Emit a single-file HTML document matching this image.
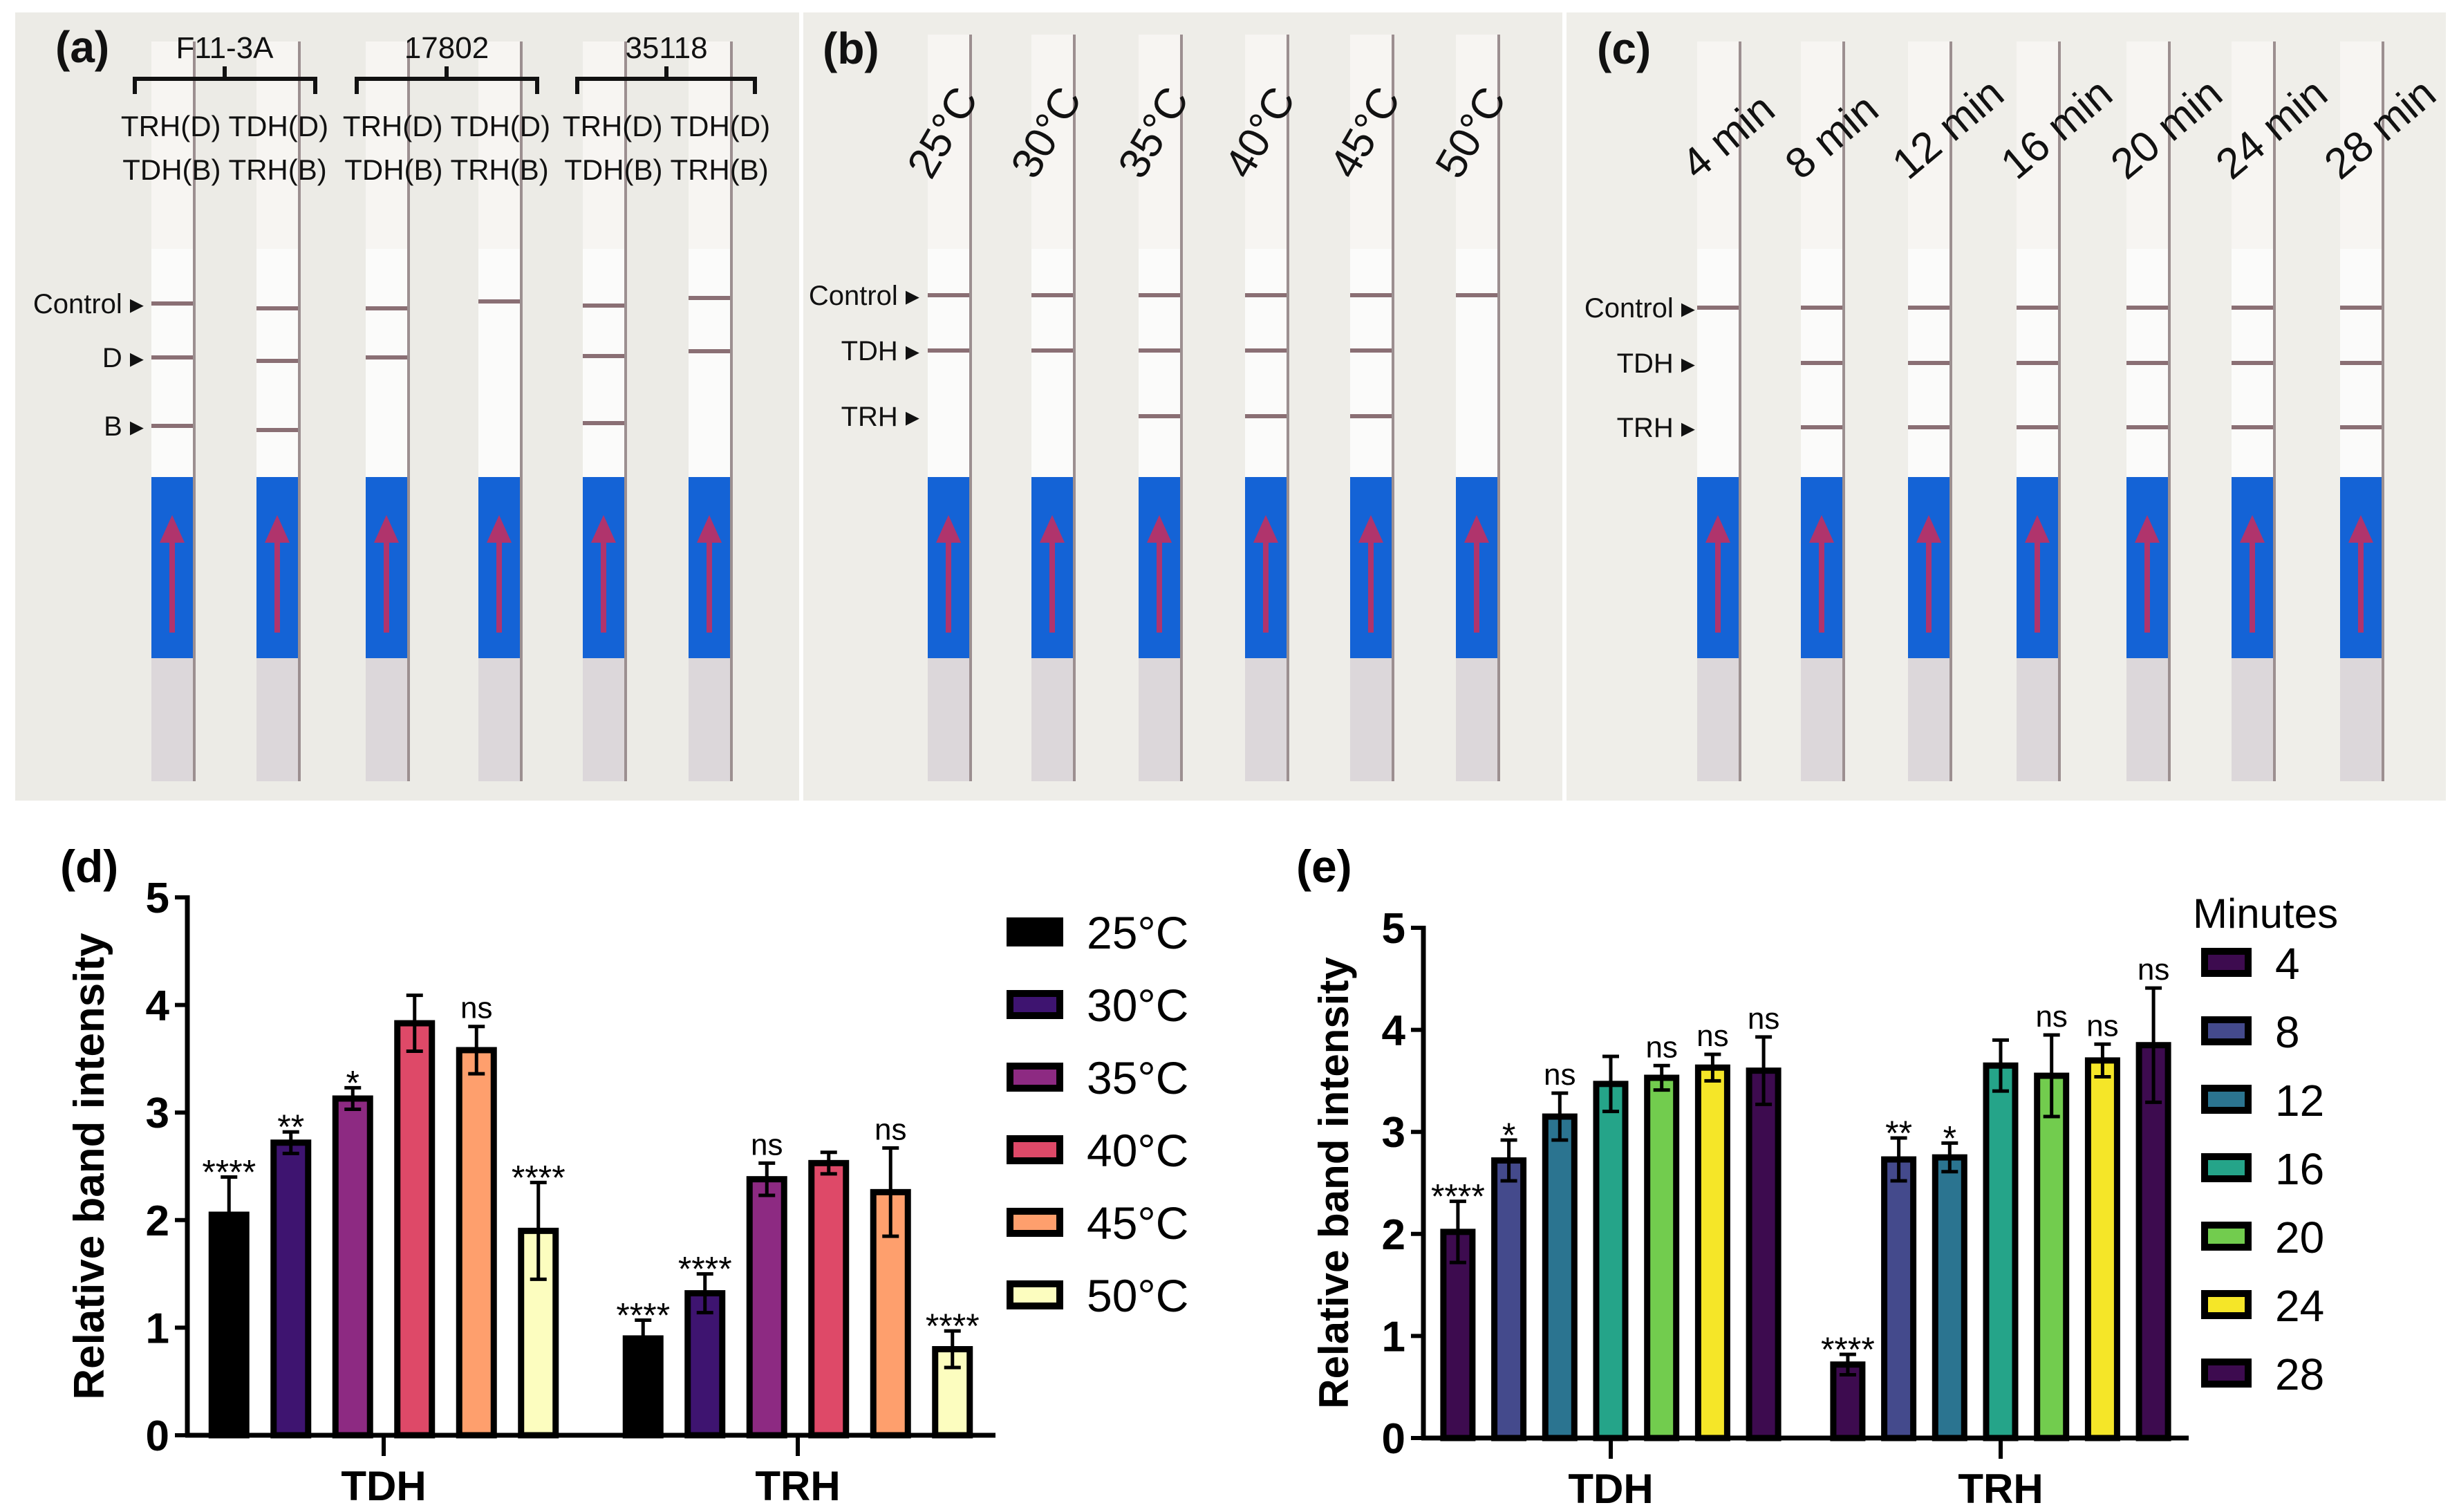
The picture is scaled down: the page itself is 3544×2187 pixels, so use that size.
<!DOCTYPE html>
<html><head><meta charset="utf-8"><style>
html,body{margin:0;padding:0;background:#fff;width:3544px;height:2187px;overflow:hidden}
svg{display:block;font-family:"Liberation Sans",Arial,sans-serif}
</style></head><body>
<svg id="fig" width="3544" height="2187" viewBox="0 0 3544 2187" xmlns="http://www.w3.org/2000/svg">
<rect x="0" y="0" width="3544" height="2187" fill="#fff"/>
<g id="photos">
 <rect x="22" y="18" width="1134" height="1140" fill="#ecebe6"/>
 <rect x="1162" y="18" width="1098" height="1140" fill="#eeede8"/>
 <rect x="2266" y="18" width="1272" height="1140" fill="#efeee9"/>
</g>
<g id="strips"></g>
<g id="photo-text" font-size="42" fill="#111">
 <text x="80" y="90" font-size="64" font-weight="bold">(a)</text>
 <text x="1190" y="92" font-size="64" font-weight="bold">(b)</text>
 <text x="2310" y="92" font-size="64" font-weight="bold">(c)</text>
 <g text-anchor="middle">
  <text x="325" y="84" font-size="44">F11-3A</text>
  <text x="646" y="84" font-size="44">17802</text>
  <text x="964" y="84" font-size="44">35118</text>
  <text x="325" y="197">TRH(D) TDH(D)</text>
  <text x="646" y="197">TRH(D) TDH(D)</text>
  <text x="964" y="197">TRH(D) TDH(D)</text>
  <text x="325" y="260">TDH(B) TRH(B)</text>
  <text x="646" y="260">TDH(B) TRH(B)</text>
  <text x="964" y="260">TDH(B) TRH(B)</text>
 </g>
 <g stroke="#111" stroke-width="6" fill="none">
  <path d="M195 136V114H456V136M325 114V96"/>
  <path d="M516 136V114H777V136M646 114V96"/>
  <path d="M835 136V114H1092V136M964 114V96"/>
 </g>
 <g text-anchor="end" font-size="40">
  <text x="208" y="453">Control ▸</text>
  <text x="208" y="531">D ▸</text>
  <text x="208" y="630">B ▸</text>
  <text x="1330" y="441">Control ▸</text>
  <text x="1330" y="521">TDH ▸</text>
  <text x="1330" y="616">TRH ▸</text>
  <text x="2452" y="459">Control ▸</text>
  <text x="2452" y="539">TDH ▸</text>
  <text x="2452" y="632">TRH ▸</text>
 </g>
 <g id="rot" font-size="62"></g>
</g>
<g id="chartD"></g>
<g id="chartE"></g>
</svg>
<script>
const NS="http://www.w3.org/2000/svg";
function mk(p,tag,at,txt){const e=document.createElementNS(NS,tag);for(const k in at)e.setAttribute(k,at[k]);if(txt!==undefined)e.textContent=txt;p.appendChild(e);return e;}

const stripsG=document.getElementById('strips');
const stripsA=[249,401,559,722,873,1026];
const bandsA=[[439,517,616],[446,522,622],[446,517,null],[436,null,null],[442,515,612],[431,508,null]];
const stripsB=[1372,1522,1677,1831,1983,2136];
const bandsB=[[427,507,null],[427,507,null],[427,507,602],[427,507,602],[427,507,602],[427,null,null]];
const stripsC=[2485,2635,2790,2947,3106,3258,3415];
const bandsC=[[445,null,null],[445,525,618],[445,525,618],[445,525,618],[445,525,618],[445,525,618],[445,525,618]];
function strip(cx,bands,top){
  const g=mk(stripsG,'g',{});
  
  
  const w=60,x=cx-w/2;
  mk(g,'rect',{x:x,y:top,width:w,height:1130-top,fill:'#f7f5f2'});
  mk(g,'rect',{x:x+w,y:top,width:4,height:1130-top,fill:'#9c8f90'});
  mk(g,'rect',{x:x,y:360,width:w,height:330,fill:'#fbfbfa'});
  mk(g,'rect',{x:x,y:690,width:w,height:262,fill:'#1463d6'});
  mk(g,'rect',{x:x,y:952,width:w,height:178,fill:'#dcd7da'});
  mk(g,'rect',{x:cx-4,y:780,width:8,height:135,fill:'#b0346c'});
  mk(g,'polygon',{points:`${cx-18},785 ${cx+18},785 ${cx},745`,fill:'#b0346c'});
  bands.forEach(b=>{if(b!==null)mk(g,'rect',{x:x,y:b-3,width:w,height:6,fill:'#8a6f74'});});
}
stripsA.forEach((c,i)=>strip(c,bandsA[i],60));
stripsB.forEach((c,i)=>strip(c,bandsB[i],50));
stripsC.forEach((c,i)=>strip(c,bandsC[i],60));
const rot=document.getElementById('rot');
const tempLabels=['25°C','30°C','35°C','40°C','45°C','50°C'];
tempLabels.forEach((t,i)=>{const e=mk(rot,'text',{x:stripsB[i]-25,y:262,transform:`rotate(-60 ${stripsB[i]-25} 262)`},t);

});
const minLabels=['4 min','8 min','12 min','16 min','20 min','24 min','28 min'];
minLabels.forEach((t,i)=>{const e=mk(rot,'text',{x:stripsC[i]-30,y:262,transform:`rotate(-40 ${stripsC[i]-30} 262)`},t);

});

const groups=['TDH','TRH'];
const tempSeries=['25°C','30°C','35°C','40°C','45°C','50°C'];
const tempColors=['#000000','#3e1470','#8d2a82','#de4968','#fe9f6d','#fcfdbf'];
const dTDH=[2.05,2.72,3.13,3.83,3.58,1.90];
const dTRH=[0.90,1.32,2.38,2.53,2.26,0.80];
const dTDHerr=[0.35,0.10,0.10,0.26,0.22,0.45];
const dTRHerr=[0.17,0.18,0.15,0.10,0.41,0.17];
const dTDHsig=['****','**','*','','ns','****'];
const dTRHsig=['****','****','ns','','ns','****'];
const minSeries=['4','8','12','16','20','24','28'];
const minColors=['#3d0b4f','#444a8c','#2b7490','#25a489','#72cc4e','#f5e628','#3d0b4f'];
const eTDH=[2.02,2.72,3.15,3.47,3.53,3.63,3.60];
const eTRH=[0.72,2.73,2.75,3.65,3.55,3.70,3.85];
const eTDHerr=[0.30,0.20,0.23,0.27,0.12,0.13,0.33];
const eTRHerr=[0.10,0.21,0.14,0.25,0.40,0.16,0.56];
const eTDHsig=['****','*','ns','','ns','ns','ns'];
const eTRHsig=['****','**','*','','ns','ns','ns'];
const yTicks=[0,1,2,3,4,5];

function chart(gid,cfg){
  const g=document.getElementById(gid);
  const y=v=>cfg.y0-(cfg.y0-cfg.y5)*v/5;
  const n=cfg.series.length;
  const t=mk(g,'text',{x:cfg.titleX,y:(cfg.y0+cfg.y5)/2,'font-size':cfg.titleSize,'font-weight':'bold','text-anchor':'middle',transform:`rotate(-90 ${cfg.titleX} ${(cfg.y0+cfg.y5)/2})`},'Relative band intensity');
  
  
  const pl=mk(g,'text',{x:cfg.ax-184,y:cfg.labelY,'font-size':66,'font-weight':'bold'},cfg.panel);
  
  
  yTicks.forEach(v=>{
    const tk=mk(g,'line',{x1:cfg.ax-18,x2:cfg.ax,y1:y(v),y2:y(v),stroke:'#000','stroke-width':6});
    
    
    const tl=mk(g,'text',{x:cfg.ax-26,y:y(v)+22,'font-size':62,'font-weight':'bold','text-anchor':'end'},String(v));
    
    
  });
  groups.forEach((grp,gi)=>{
    const vals=gi?cfg.trh:cfg.tdh, errs=gi?cfg.trhE:cfg.tdhE, sig=gi?cfg.trhS:cfg.tdhS;
    const gc=cfg.groupCenters[gi];
    vals.forEach((v,i)=>{
      const cx=gc+(i-(n-1)/2)*cfg.step;
      const b=mk(g,'rect',{x:cx-cfg.bw/2,y:y(v),width:cfg.bw,height:cfg.y0-y(v),fill:cfg.colors[i],stroke:'#000','stroke-width':9});
      
      
      const e=errs[i];
      const eb=mk(g,'path',{d:`M${cx} ${y(v-e)}V${y(v+e)}M${cx-12} ${y(v+e)}H${cx+12}M${cx-12} ${y(v-e)}H${cx+12}`,stroke:'#000','stroke-width':5,fill:'none'});
      
      
      if(sig[i]){
        const st=mk(g,'text',{x:cx,y:y(v+e)-(sig[i]==='ns'?12:-10),'font-size':sig[i]==='ns'?44:50,'text-anchor':'middle'},sig[i]);
        
        
      }
    });
    const xt=mk(g,'line',{x1:gc,x2:gc,y1:cfg.y0,y2:cfg.y0+30,stroke:'#000','stroke-width':6});
    
    
    const xl=mk(g,'text',{x:gc,y:cfg.y0+94,'font-size':60,'font-weight':'bold','text-anchor':'middle'},grp);
    
    
  });
  const ya=mk(g,'line',{x1:cfg.ax,x2:cfg.ax,y1:cfg.y5-3,y2:cfg.y0+3,stroke:'#000','stroke-width':7});
  
  
  const xa=mk(g,'line',{x1:cfg.ax-3,x2:cfg.axEnd,y1:cfg.y0,y2:cfg.y0,stroke:'#000','stroke-width':7});
  
  
  if(cfg.legendTitle){
    const lt=mk(g,'text',{x:cfg.legX-12,y:cfg.legY0-50,'font-size':60},cfg.legendTitle);
    
    
  }
  cfg.series.forEach((s,i)=>{
    const ly=cfg.legY0+i*cfg.legStep;
    const lg=mk(g,'g',{});
    
    
    mk(lg,'rect',{x:cfg.legX+5,y:ly-16,width:cfg.legW-10,height:32,fill:cfg.colors[i],stroke:'#000','stroke-width':10});
    mk(lg,'text',{x:cfg.legX+cfg.legW+34,y:ly+24,'font-size':cfg.legFont},s);
  });
}
chart('chartD',{panel:'(d)',ax:271,axEnd:1440,y0:2076,y5:1298,titleX:150,labelY:1276,titleSize:62,
  groupCenters:[555,1154],step:89.5,bw:50,series:tempSeries,colors:tempColors,
  tdh:dTDH,trh:dTRH,tdhE:dTDHerr,trhE:dTRHerr,tdhS:dTDHsig,trhS:dTRHsig,
  legX:1456,legY0:1348,legStep:105,legW:82,legFont:66});
chart('chartE',{panel:'(e)',ax:2059,axEnd:3166,y0:2080,y5:1342,titleX:1950,labelY:1276,titleSize:60,
  groupCenters:[2330,2894],step:73.7,bw:42,series:minSeries,colors:minColors,
  tdh:eTDH,trh:eTRH,tdhE:eTDHerr,trhE:eTRHerr,tdhS:eTDHsig,trhS:eTRHsig,
  legX:3184,legY0:1392,legStep:99,legW:73,legFont:64,legendTitle:'Minutes'});
</script>
</body></html>
